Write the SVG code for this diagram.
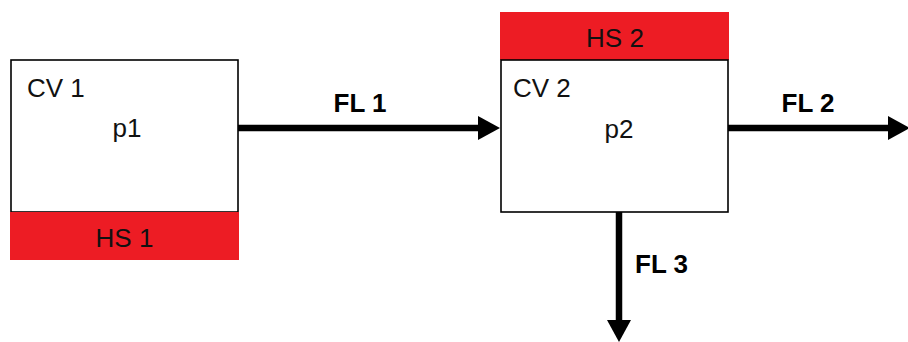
<svg xmlns="http://www.w3.org/2000/svg" width="908" height="342" viewBox="0 0 908 342">
<style>
.box{fill:#fff;stroke:#000;stroke-width:1.6}
.hs{fill:#ED1C24}
.t{font-family:"Liberation Sans",Arial,sans-serif;font-size:26px;fill:#111}
.c{text-anchor:middle}
.fl{font-family:"Liberation Sans",Arial,sans-serif;font-size:26px;font-weight:bold;fill:#000}
.arr{stroke:#000;stroke-width:6.5;fill:none}
</style>
<defs>
<marker id="ah" markerUnits="userSpaceOnUse" markerWidth="22" markerHeight="24" refX="2" refY="12" orient="auto" viewBox="0 0 22 24">
<path d="M0,0 L22,12 L0,24 z" fill="#000"/>
</marker>
</defs>
<rect width="908" height="342" fill="#fff"/>
<g id="cv1">
<rect class="box" x="11" y="60" width="227" height="152"/>
<text class="t" x="27" y="97">CV 1</text>
<text class="t c" x="127" y="137">p1</text>
</g>
<g id="hs1">
<rect class="hs" x="10" y="212" width="229" height="48"/>
<text class="t c" x="124.5" y="247">HS 1</text>
</g>
<g id="hs2">
<rect class="hs" x="500" y="12" width="229" height="48"/>
<text class="t c" x="615" y="47">HS 2</text>
</g>
<g id="cv2">
<rect class="box" x="501" y="60" width="227" height="152"/>
<text class="t" x="513" y="97">CV 2</text>
<text class="t c" x="619" y="138">p2</text>
</g>
<g id="connectors">
<line class="arr" x1="238" y1="128" x2="480" y2="128" marker-end="url(#ah)"/>
<line class="arr" x1="728" y1="128" x2="890" y2="128" marker-end="url(#ah)"/>
<line class="arr" x1="619" y1="212" x2="619" y2="322" marker-end="url(#ah)"/>
<text class="fl c" x="360" y="112">FL 1</text>
<text class="fl c" x="808" y="112">FL 2</text>
<text class="fl" x="635" y="273">FL 3</text>
</g>
</svg>
